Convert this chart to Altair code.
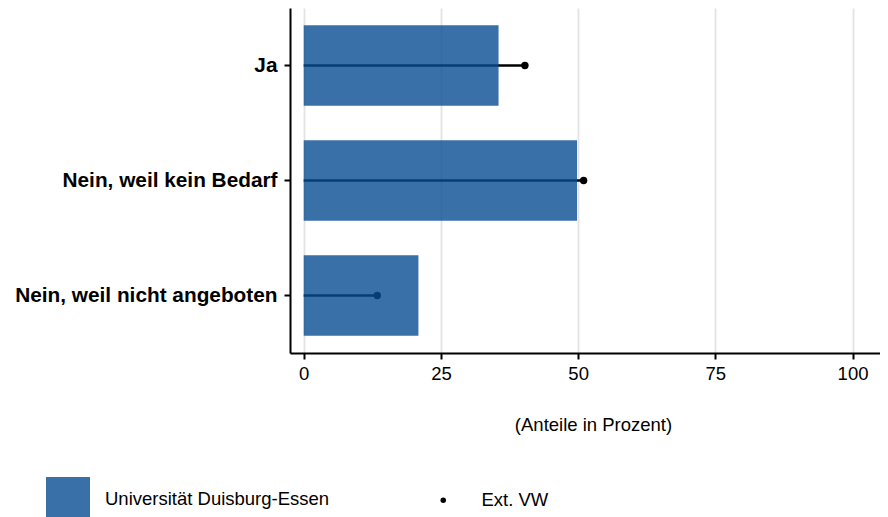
import altair as alt
import pandas as pd

categories = ["Ja", "Nein, weil kein Bedarf", "Nein, weil nicht angeboten"]
ude_values = [35.5, 49.8, 20.9]
ext_values = [40.3, 51.0, 13.4]
x_ticks = [0, 25, 50, 75, 100]
series_bar = "Universität Duisburg-Essen"
series_point = "Ext. VW"

df = pd.DataFrame({
    "cat": categories,
    "ude": ude_values,
    "ext": ext_values,
    "zero": [0] * len(categories),
    "s1": [series_bar] * len(categories),
    "s2": [series_point] * len(categories),
})

FONT = "Liberation Sans"

y = alt.Y(
    "cat:N", sort=categories, title=None,
    scale=alt.Scale(paddingInner=0.3, paddingOuter=0.15),
    axis=alt.Axis(labelFontWeight="bold", labelFontSize=20.8, labelColor="black",
                  labelFont=FONT, labelLimit=0, domainColor="black", domainWidth=2,
                  tickColor="black", tickWidth=2, tickSize=6, labelPadding=7,
                  grid=False),
)
xscale = alt.Scale(domain=[-2.5, 105], nice=False, zero=False)
xaxis = alt.Axis(values=x_ticks, title="(Anteile in Prozent)", grid=True,
                 gridColor="#e3e3e3", gridWidth=1.8,
                 labelFontSize=18.5, labelFont=FONT, labelColor="black",
                 titleFontSize=18.5, titleFont=FONT, titleFontWeight="normal",
                 titleColor="black", titlePadding=33, titleX=303,
                 domainColor="black", domainWidth=2, tickColor="black",
                 tickWidth=2, tickSize=6, labelPadding=5)

rules = alt.Chart(df).mark_rule(color="black", strokeWidth=2.6).encode(
    x=alt.X("zero:Q", scale=xscale, axis=xaxis),
    x2="ext:Q",
    y=y,
)

points = alt.Chart(df).mark_point(filled=True, color="black", size=55, opacity=1).encode(
    x=alt.X("ext:Q", scale=xscale, axis=xaxis),
    y=y,
    shape=alt.Shape("s2:N", scale=alt.Scale(domain=[series_point], range=["circle"]),
                    legend=alt.Legend(title=None, orient="none", legendX=144, legendY=483,
                                      symbolSize=30, symbolFillColor="black",
                                      symbolStrokeColor="black", symbolStrokeWidth=0,
                                      labelFontSize=18.5, labelFont=FONT, labelLimit=0,
                                      labelColor="black", labelOffset=29, padding=0)),
)

bars = alt.Chart(df).mark_bar(opacity=0.8).encode(
    x=alt.X("ude:Q", scale=xscale, axis=xaxis),
    y=y,
    color=alt.Color("s1:N", scale=alt.Scale(domain=[series_bar], range=["#094c92"]),
                    legend=alt.Legend(title=None, orient="none", legendX=-244, legendY=469,
                                      symbolType="square", symbolSize=1936,
                                      symbolOpacity=0.8, symbolStrokeWidth=0,
                                      labelFontSize=18.5, labelFont=FONT, labelLimit=0,
                                      labelColor="black", labelOffset=15, padding=0)),
)

chart = alt.layer(rules, points, bars).resolve_legend(
    color="independent", shape="independent"
).properties(
    width=590, height=345,
    padding={"left": 6, "top": 0, "right": 0, "bottom": 0},
).configure_view(stroke=None)

chart.save("out.html", embed_options={"renderer": "svg", "actions": False})
